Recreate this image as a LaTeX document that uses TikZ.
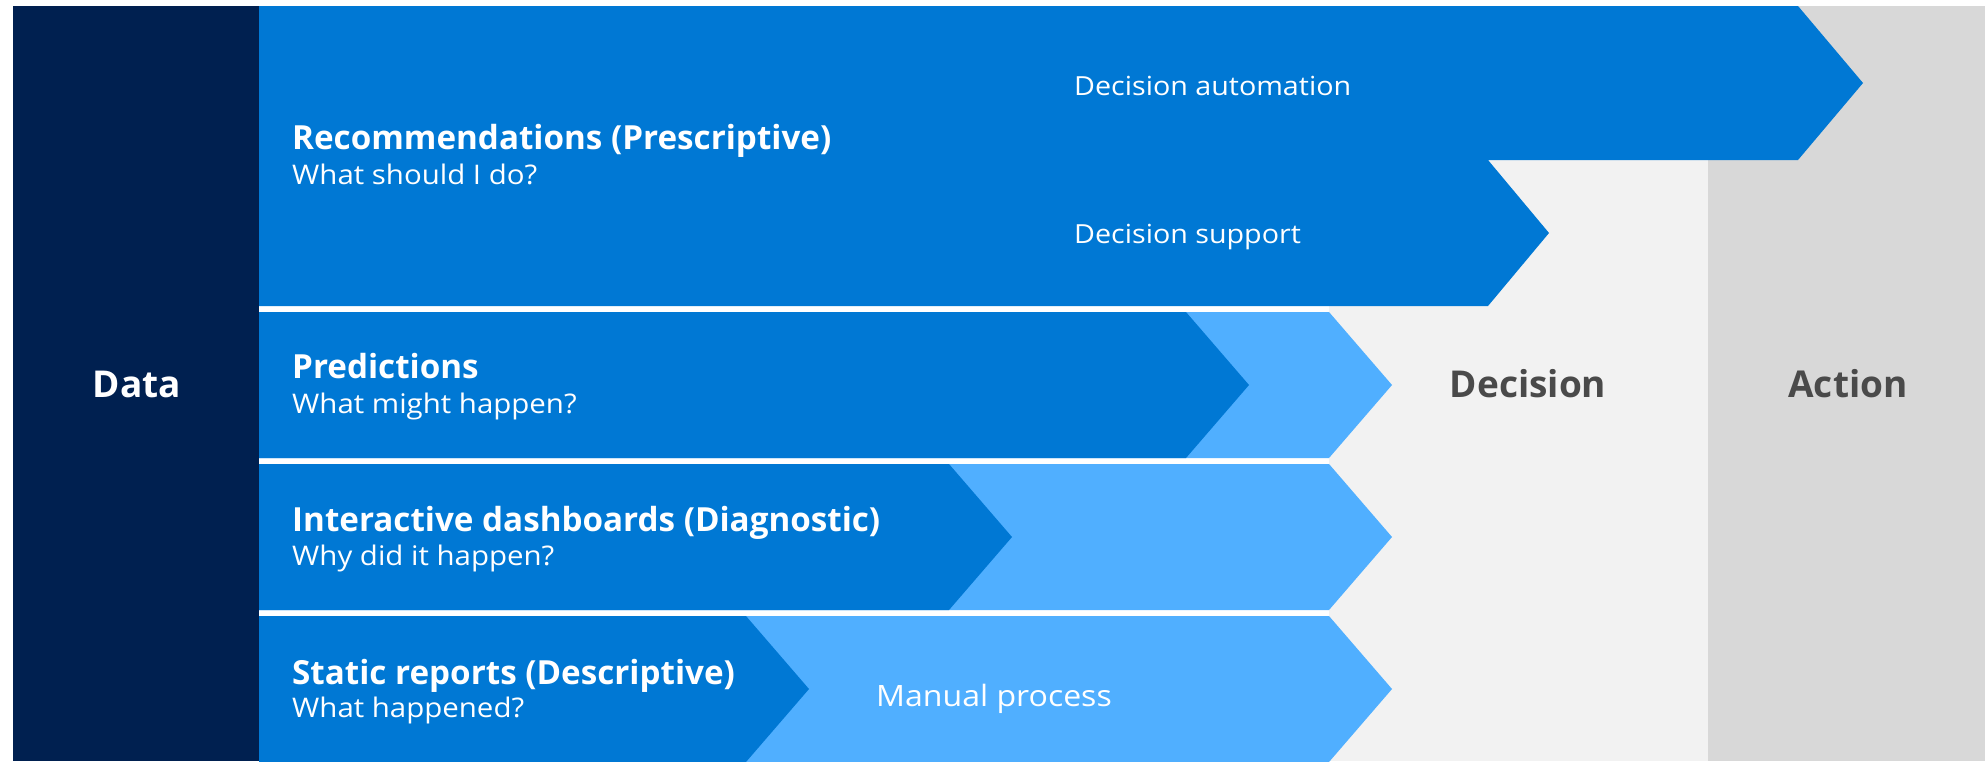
\documentclass[tikz,border=0pt]{standalone}
\usepackage{fontspec}
\setmainfont{Open Sans}
\newfontfamily\widefont[FakeStretch=1.09]{Open Sans}
\definecolor{navy}{HTML}{002050}
\definecolor{mblue}{HTML}{0078D4}
\definecolor{lblue}{HTML}{50AFFF}
\definecolor{lgray}{HTML}{F2F2F2}
\definecolor{dgray}{HTML}{D8D8D8}
\definecolor{tgray}{HTML}{4A4A4A}
\tikzset{
  titletext/.style={anchor=base west, text=white, inner sep=0pt, font=\fontsize{33.2}{38}\selectfont\bfseries},
  subtext/.style={anchor=base west, text=white, inner sep=0pt, font=\widefont\fontsize{27}{32}\selectfont},
  sidetext/.style={anchor=base west, text=white, inner sep=0pt, font=\widefont\fontsize{26.3}{32}\selectfont},
  manualtext/.style={anchor=base west, text=white, inner sep=0pt, font=\widefont\fontsize{29.4}{34}\selectfont},
  bigtext/.style={anchor=base, inner sep=0pt, font=\fontsize{37}{44}\selectfont\bfseries},
}
\begin{document}
\begin{tikzpicture}[x=1pt,y=-1pt]
\useasboundingbox (0,0) rectangle (1985,761);
\fill[white] (0,0) rectangle (1985,761);
% backgrounds
\fill[lgray] (1329,6) rectangle (1708,761);
\fill[dgray] (1708,6) rectangle (1985,761);
\fill[navy] (13,6) rectangle (259,761);
% row 1 (prescriptive)
\fill[mblue] (259,6) -- (1798,6) -- (1863,83) -- (1798,160) -- (1488,160) -- (1549,233) -- (1488,306) -- (259,306) -- cycle;
% row 2
\fill[lblue] (259,312) -- (1329,312) -- (1392,385) -- (1329,458) -- (259,458) -- cycle;
\fill[mblue] (259,312) -- (1186,312) -- (1249,385) -- (1186,458) -- (259,458) -- cycle;
% row 3
\fill[lblue] (259,464) -- (1329,464) -- (1392,537) -- (1329,610) -- (259,610) -- cycle;
\fill[mblue] (259,464) -- (949,464) -- (1012,537) -- (949,610) -- (259,610) -- cycle;
% row 4
\fill[lblue] (259,616) -- (1329,616) -- (1392,689) -- (1329,762) -- (259,762) -- cycle;
\fill[mblue] (259,616) -- (746,616) -- (809,689) -- (746,762) -- (259,762) -- cycle;
% texts
\node[bigtext, text=white] (data) at (137,397) {Data};
\node[bigtext, text=tgray] (decision) at (1528,397) {Decision};
\node[bigtext, text=tgray] (action) at (1848,397) {Action};
\node[titletext] (rec) at (292,149) {Recommendations (Prescriptive)};
\node[subtext] (recq) at (292,184) {What should I do?};
\node[sidetext] (auto) at (1074,95) {Decision automation};
\node[sidetext] (supp) at (1074,243) {Decision support};
\node[titletext] (pred) at (292,378) {Predictions};
\node[subtext] (predq) at (292,413) {What might happen?};
\node[titletext] (dash) at (292,531) {Interactive dashboards (Diagnostic)};
\node[subtext] (dashq) at (292,565) {Why did it happen?};
\node[titletext] (stat) at (292,684) {Static reports (Descriptive)};
\node[subtext] (statq) at (292,717) {What happened?};
\node[manualtext] (manual) at (876,706) {Manual process};
\end{tikzpicture}
\end{document}
